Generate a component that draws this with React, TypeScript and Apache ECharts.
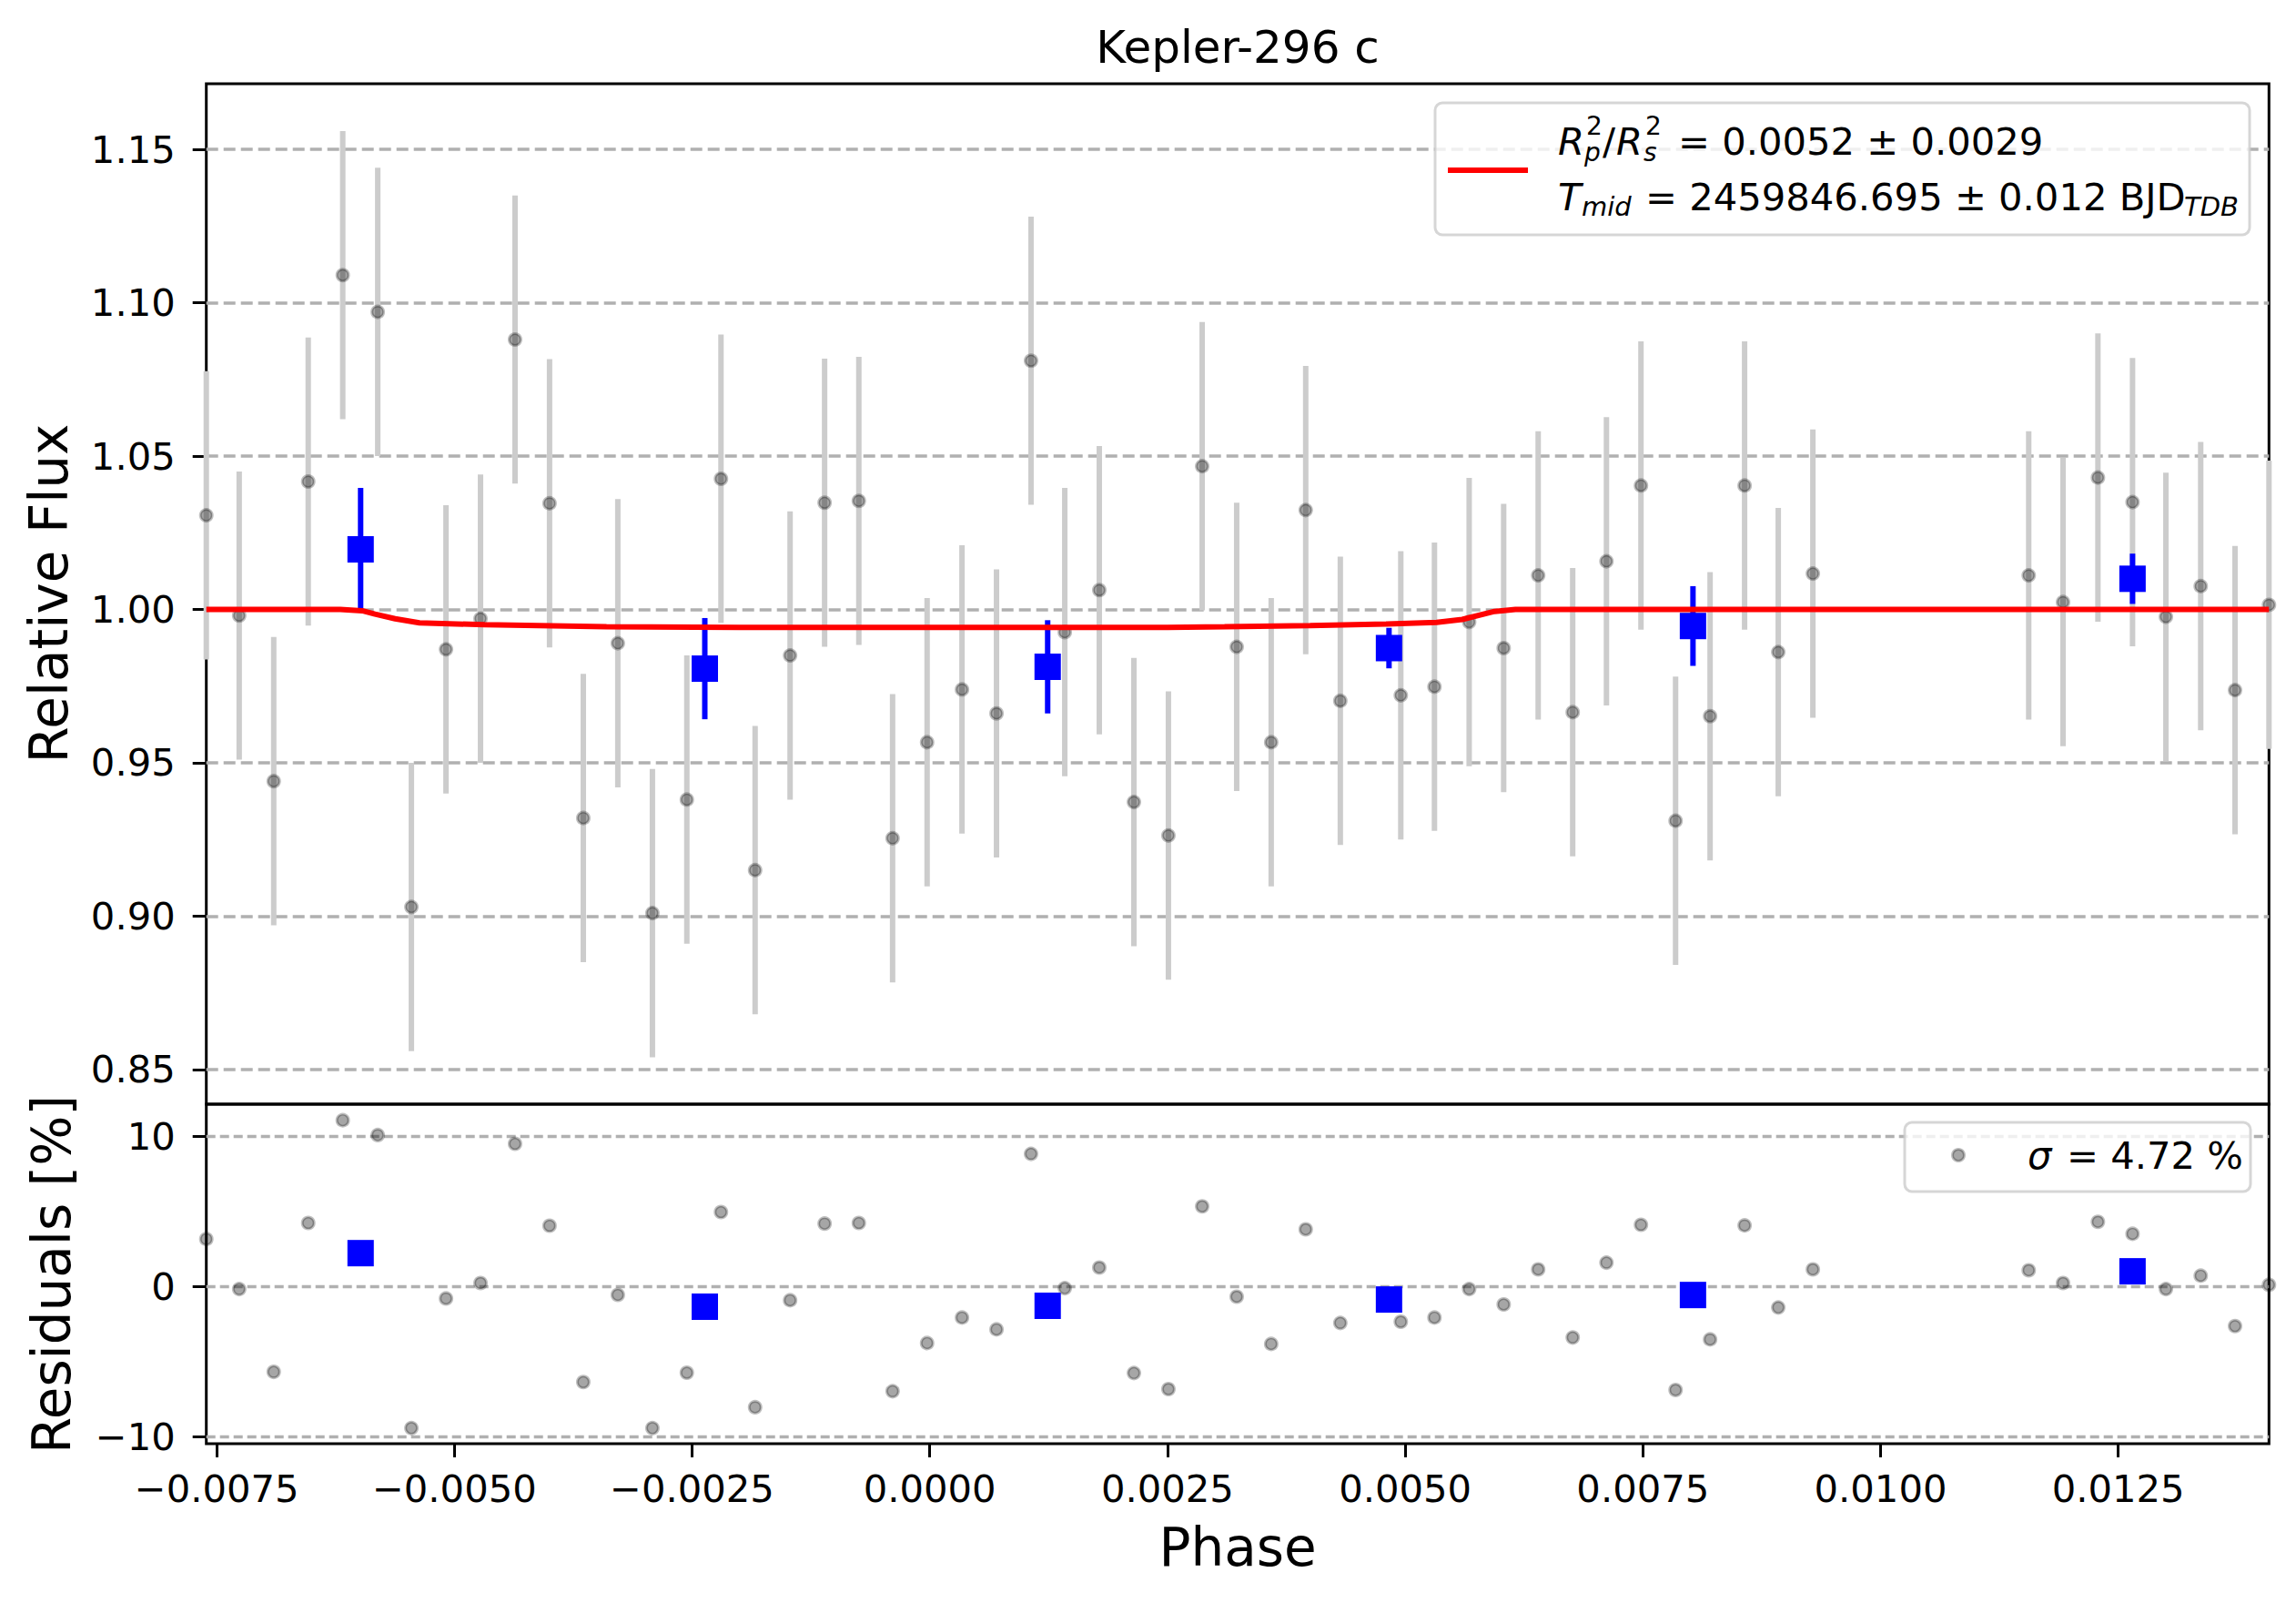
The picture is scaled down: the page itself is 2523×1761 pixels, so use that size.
import React, { useEffect, useRef } from 'react';
import * as echarts from 'echarts';

// unbinned phase-folded points
const phase = [
  -0.007609, -0.007263, -0.0069, -0.006537, -0.006174, -0.005806, -0.005452, -0.005088, -0.004725, -0.004362,
  -0.003999, -0.003644, -0.003281, -0.002917, -0.002555, -0.002196, -0.001837, -0.001469, -0.001106, -0.000746,
  -0.000391, -0.000028, 0.000339, 0.000702, 0.001065, 0.00142, 0.001783, 0.002147, 0.00251, 0.002865,
  0.003228, 0.003591, 0.003954, 0.004318, 0.004954, 0.005308, 0.005673, 0.006036, 0.006399, 0.006762,
  0.007117, 0.00748, 0.007844, 0.008207, 0.00857, 0.008924, 0.009288, 0.011558, 0.011919, 0.012286,
  0.01265, 0.013001, 0.013367, 0.013728, 0.014085,
];
const flux = [
  1.0307, 0.998, 0.944, 1.0417, 1.109, 1.097, 0.903, 0.987, 0.997, 1.088,
  1.0346, 0.932, 0.989, 0.901, 0.938, 1.0426, 0.915, 0.985, 1.0348, 1.0354,
  0.9254, 0.9567, 0.9739, 0.9661, 1.0811, 0.9926, 1.0063, 0.9372, 0.9263, 1.0467,
  0.9878, 0.9567, 1.0324, 0.9702, 0.972, 0.9748, 0.9959, 0.9874, 1.0111, 0.9665,
  1.0157, 1.0404, 0.9311, 0.9652, 1.0404, 0.9861, 1.0117, 1.0111, 1.0024, 1.043,
  1.035, 0.9976, 1.0076, 0.9737, 1.0015,
];
const fluxErr = 0.047;
const residual = [
  3.17, -0.16, -5.68, 4.24, 11.09, 10.1, -9.43, -0.79, 0.24, 9.52,
  4.06, -6.36, -0.55, -9.43, -5.74, 4.97, -8.04, -0.91, 4.2, 4.24,
  -6.97, -3.76, -2.06, -2.85, 8.85, -0.1, 1.27, -5.76, -6.83, 5.35,
  -0.67, -3.82, 3.82, -2.42, -2.34, -2.06, -0.16, -1.19, 1.15, -3.39,
  1.6, 4.12, -6.89, -3.52, 4.08, -1.39, 1.15, 1.09, 0.24, 4.32,
  3.52, -0.16, 0.73, -2.63, 0.12,
];

// binned points
const binPhase = [-0.005986, -0.002366, 0.00124, 0.00483, 0.008027, 0.01265];
const binFlux = [1.0196, 0.9807, 0.9813, 0.9874, 0.9946, 1.01];
const binErr = [0.02, 0.0165, 0.0152, 0.0066, 0.013, 0.0082];
const binResidual = [2.23, -1.34, -1.28, -0.86, -0.56, 1.02];

// transit model
const modelPhase = [
  -0.007609, -0.0062, -0.00597, -0.005835, -0.005623, -0.005367, -0.004682, -0.0034, -0.002, -0.0005,
  0.001, 0.0025, 0.0031, 0.004, 0.0048, 0.00533, 0.0056, 0.00594, 0.00616, 0.014085,
];
const modelFlux = [
  1.0, 1.0, 0.99957, 0.99848, 0.99696, 0.99565, 0.995, 0.99435, 0.99418, 0.99413,
  0.99413, 0.99418, 0.99435, 0.9947, 0.99522, 0.9958, 0.99674, 0.99935, 1.0, 1.0,
];

const phaseTicks = [-0.0075, -0.005, -0.0025, 0, 0.0025, 0.005, 0.0075, 0.01, 0.0125];
const fluxTicks = [0.85, 0.9, 0.95, 1.0, 1.05, 1.1, 1.15];
const residualTicks = [-10, 0, 10];

const FONT = 'DejaVu Sans';
const TICK_FS = 41.7;
const SUB_FS = 29;
const SCRIPT_FS = 28;
const minus = (s: string) => s.replace('-', '\u2212');

const greyDot = {
  color: 'rgba(0,0,0,0.35)',
  borderColor: 'rgba(0,0,0,0.25)',
  borderWidth: 3,
  opacity: 1,
};

const errorBarSeries = (
  data: number[][],
  color: string,
  z: number,
): echarts.CustomSeriesOption => ({
  type: 'custom',
  xAxisIndex: 0,
  yAxisIndex: 0,
  z,
  silent: true,
  data,
  renderItem: (params: any, api: any) => {
    const x = api.value(0);
    const y = api.value(1);
    const e = api.value(2);
    const top = api.coord([x, y + e]);
    const bot = api.coord([x, y - e]);
    return {
      type: 'line',
      shape: { x1: top[0], y1: top[1], x2: bot[0], y2: bot[1] },
      style: { stroke: color, lineWidth: 6 },
    };
  },
});

const txt = (
  text: string,
  x: number,
  y: number,
  fontSize: number,
  extra: Record<string, any> = {},
) => ({
  type: 'text',
  z: 100,
  x,
  y,
  rotation: extra.rotation || 0,
  style: {
    text,
    x: 0,
    y: 0,
    fill: '#000',
    fontSize,
    fontFamily: FONT,
    fontStyle: extra.italic ? 'italic' : 'normal',
    align: extra.align || 'left',
    verticalAlign: 'middle',
  },
});

const App: React.FC = () => {
  const chartRef = useRef<HTMLDivElement>(null);

  useEffect(() => {
    if (!chartRef.current) return;
    const chart = echarts.init(chartRef.current, undefined, { renderer: 'svg' });

    const xMin = phase[0];
    const xMax = phase[phase.length - 1];

    const baseX = {
      type: 'value' as const,
      min: xMin,
      max: xMax,
      splitLine: { show: false },
      axisLine: { show: false, onZero: false },
    };

    const option: echarts.EChartsOption = {
      animation: false,
      backgroundColor: '#fff',
      grid: [
        { left: 226.7, right: 29.7, top: 92, height: 1121, show: true, borderColor: '#000', borderWidth: 3 },
        { left: 226.7, right: 29.7, top: 1213, height: 373, show: true, borderColor: '#000', borderWidth: 3 },
      ],
      xAxis: [
        {
          ...baseX,
          gridIndex: 0,
          axisTick: { show: false },
          axisLabel: { show: false },
        },
        {
          ...baseX,
          gridIndex: 1,
          axisTick: {
            show: true,
            length: 15,
            lineStyle: { color: '#000', width: 3 },
            customValues: phaseTicks,
          },
          axisLabel: {
            customValues: phaseTicks,
            formatter: (v: number) => minus(v.toFixed(4)),
            fontSize: TICK_FS,
            fontFamily: FONT,
            color: '#000',
            margin: 28,
          },
        },
      ],
      yAxis: [
        {
          type: 'value',
          gridIndex: 0,
          min: 0.8387,
          max: 1.1714,
          splitLine: { show: false },
          axisLine: { show: false, onZero: false },
          axisTick: {
            show: true,
            length: 15,
            lineStyle: { color: '#000', width: 3 },
            customValues: fluxTicks,
          },
          axisLabel: {
            customValues: fluxTicks,
            formatter: (v: number) => v.toFixed(2),
            fontSize: TICK_FS,
            fontFamily: FONT,
            color: '#000',
            margin: 34,
          },
        },
        {
          type: 'value',
          gridIndex: 1,
          min: -10.47,
          max: 12.16,
          splitLine: { show: false },
          axisLine: { show: false, onZero: false },
          axisTick: {
            show: true,
            length: 15,
            lineStyle: { color: '#000', width: 3 },
            customValues: residualTicks,
          },
          axisLabel: {
            customValues: residualTicks,
            formatter: (v: number) => minus(v.toFixed(0)),
            fontSize: TICK_FS,
            fontFamily: FONT,
            color: '#000',
            margin: 34,
          },
        },
      ],
      series: [
        {
          type: 'line',
          xAxisIndex: 0,
          yAxisIndex: 0,
          data: [],
          silent: true,
          markLine: {
            z: 1,
            silent: true,
            symbol: 'none',
            label: { show: false },
            lineStyle: { color: '#b0b0b0', type: [13, 6], width: 3.5 },
            data: fluxTicks.map((v) => ({ yAxis: v })),
          },
        },
        {
          type: 'line',
          xAxisIndex: 1,
          yAxisIndex: 1,
          data: [],
          silent: true,
          markLine: {
            z: 1,
            silent: true,
            symbol: 'none',
            label: { show: false },
            lineStyle: { color: '#b0b0b0', type: [10, 5], width: 3.3 },
            data: residualTicks.map((v) => ({ yAxis: v })),
          },
        },
        errorBarSeries(phase.map((p, i) => [p, flux[i], fluxErr]), '#cccccc', 2),
        {
          type: 'scatter',
          xAxisIndex: 0,
          yAxisIndex: 0,
          z: 3,
          symbol: 'circle',
          symbolSize: 13,
          itemStyle: greyDot,
          data: phase.map((p, i) => [p, flux[i]]),
        },
        errorBarSeries(binPhase.map((p, i) => [p, binFlux[i], binErr[i]]), '#0000ff', 4),
        {
          type: 'line',
          xAxisIndex: 0,
          yAxisIndex: 0,
          z: 5,
          symbol: 'none',
          showSymbol: false,
          lineStyle: { color: '#ff0000', width: 6 },
          data: modelPhase.map((p, i) => [p, modelFlux[i]]),
        },
        {
          type: 'scatter',
          xAxisIndex: 0,
          yAxisIndex: 0,
          z: 6,
          symbol: 'rect',
          symbolSize: 29,
          itemStyle: { color: '#0000ff', opacity: 1 },
          data: binPhase.map((p, i) => [p, binFlux[i]]),
        },
        {
          type: 'scatter',
          xAxisIndex: 1,
          yAxisIndex: 1,
          z: 3,
          symbol: 'circle',
          symbolSize: 13,
          itemStyle: greyDot,
          data: phase.map((p, i) => [p, residual[i]]),
        },
        {
          type: 'scatter',
          xAxisIndex: 1,
          yAxisIndex: 1,
          z: 6,
          symbol: 'rect',
          symbolSize: 29,
          itemStyle: { color: '#0000ff', opacity: 1 },
          data: binPhase.map((p, i) => [p, binResidual[i]]),
        },
      ],
      graphic: [
        txt('Kepler-296 c', 1360, 52, 50, { align: 'center' }),
        txt('Relative Flux', 54, 652, 58, { align: 'center', rotation: Math.PI / 2 }),
        txt('Residuals [%]', 57, 1400, 58, { align: 'center', rotation: Math.PI / 2 }),
        txt('Phase', 1360, 1700, 58, { align: 'center' }),

        // fit legend
        {
          type: 'rect',
          z: 99,
          shape: { x: 1577, y: 113, width: 895, height: 145, r: 8 },
          style: { fill: 'rgba(255,255,255,0.8)', stroke: 'rgba(204,204,204,0.8)', lineWidth: 3 },
        },
        {
          type: 'line',
          z: 100,
          shape: { x1: 1591, y1: 187, x2: 1679, y2: 187 },
          style: { stroke: '#ff0000', lineWidth: 6 },
        },
        txt('R', 1712, 155, TICK_FS, { italic: true }),
        txt('2', 1743, 138, SCRIPT_FS),
        txt('p', 1741, 167.5, SCRIPT_FS, { italic: true }),
        txt('/', 1761, 155, TICK_FS),
        txt('R', 1776, 155, TICK_FS, { italic: true }),
        txt('2', 1808, 138, SCRIPT_FS),
        txt('s', 1806, 167.5, SCRIPT_FS, { italic: true }),
        txt('= 0.0052 \u00b1 0.0029', 1844, 155, TICK_FS),
        txt('T', 1712, 216.4, TICK_FS, { italic: true }),
        txt('mid', 1738, 226.5, SUB_FS, { italic: true }),
        txt('= 2459846.695 \u00b1 0.012 BJD', 1808, 216.4, TICK_FS),
        txt('TDB', 2400, 226.5, SUB_FS, { italic: true }),

        // residual legend
        {
          type: 'rect',
          z: 99,
          shape: { x: 2093, y: 1233, width: 380, height: 76, r: 8 },
          style: { fill: 'rgba(255,255,255,0.8)', stroke: 'rgba(204,204,204,0.8)', lineWidth: 3 },
        },
        {
          type: 'circle',
          z: 100,
          shape: { cx: 2152, cy: 1269, r: 6.5 },
          style: { fill: greyDot.color, stroke: greyDot.borderColor, lineWidth: 3 },
        },
        txt('\u03c3', 2228, 1269.6, TICK_FS, { italic: true }),
        txt('= 4.72 %', 2271, 1269.6, TICK_FS),
      ],
    };

    chart.setOption(option);

    return () => {
      chart.dispose();
    };
  }, []);

  return (
    <div
      ref={chartRef}
      style={{ position: 'fixed', left: 0, top: 0, width: '2523px', height: '1761px', background: '#fff' }}
    />
  );
};

export default App;
